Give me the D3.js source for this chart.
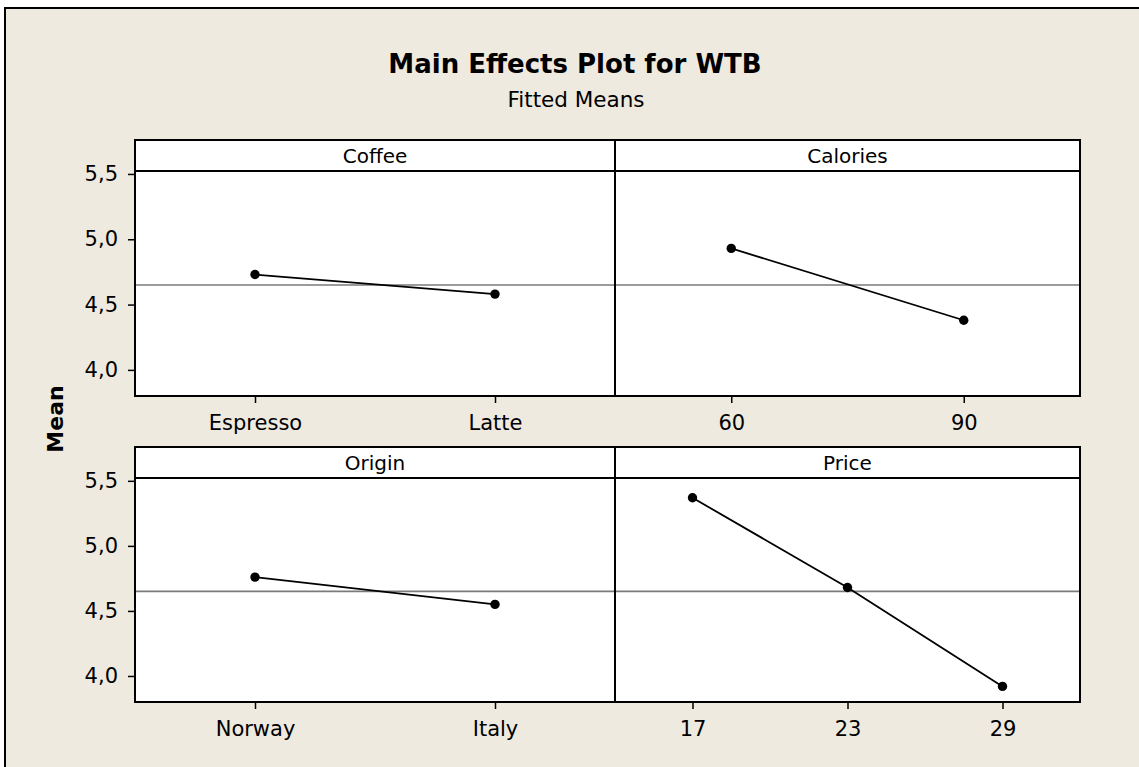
<!DOCTYPE html>
<html>
<head>
<meta charset="utf-8">
<script src="https://cdn.jsdelivr.net/npm/d3@7"></script>
<style>
  html, body { margin: 0; padding: 0; background: #ffffff; }
  svg { display: block; }
</style>
</head>
<body>
<svg id="chart" width="1139" height="767"></svg>
<script>
// ---- data ----
const factors = ["Coffee", "Calories", "Origin", "Price"];
const coffeeLevels = ["Espresso", "Latte"];
const caloriesLevels = ["60", "90"];
const originLevels = ["Norway", "Italy"];
const priceLevels = ["17", "23", "29"];
const coffeeMeans = [4.73, 4.58];
const caloriesMeans = [4.93, 4.38];
const originMeans = [4.76, 4.55];
const priceMeans = [5.37, 4.68, 3.92];
const grandMean = 4.65;
const yTicks = [4.0, 4.5, 5.0, 5.5];
const yDomain = [3.8, 5.76];
const titleText = "Main Effects Plot for WTB";
const subtitleText = "Fitted Means";
const yLabel = "Mean";

const levelsList = [coffeeLevels, caloriesLevels, originLevels, priceLevels];
const meansList = [coffeeMeans, caloriesMeans, originMeans, priceMeans];

// ---- layout ----
const W = 1139, H = 767;
const FONT = "'DejaVu Sans', Verdana, sans-serif";
const cols = [[135, 615], [615, 1080]];
const rows = [[140, 396], [447, 702]];
const stripH = 31;
const bg = "#EEEAE0";

const svg = d3.select("#chart");
svg.append("rect").attr("x", 0).attr("y", 0).attr("width", W).attr("height", H).attr("fill", "#ffffff");
svg.append("rect").attr("x", 5).attr("y", 8).attr("width", W + 20).attr("height", H + 20)
  .attr("fill", bg).attr("stroke", "#000").attr("stroke-width", 2);

svg.append("text").attr("x", 575).attr("y", 73).attr("text-anchor", "middle")
  .attr("font-family", FONT).attr("font-weight", "bold").attr("font-size", 26)
  .attr("fill", "#000").text(titleText);
svg.append("text").attr("x", 576).attr("y", 107).attr("text-anchor", "middle")
  .attr("font-family", FONT).attr("font-size", 21.5)
  .attr("fill", "#000").text(subtitleText);

svg.append("text").attr("transform", "translate(63,419) rotate(-90)")
  .attr("text-anchor", "middle").attr("font-family", FONT).attr("font-weight", "bold")
  .attr("font-size", 22).attr("fill", "#000").text(yLabel);

const fmt = d => d3.format(".1f")(d).replace(".", ",");

factors.forEach((name, i) => {
  const c = cols[i % 2], r = rows[Math.floor(i / 2)];
  const levels = levelsList[i], means = meansList[i];
  const x = d3.scalePoint().domain(levels).range(c).padding(0.5);
  const y = d3.scaleLinear().domain(yDomain).range([r[1], r[0]]);
  const g = svg.append("g");

  g.append("rect").attr("x", c[0]).attr("y", r[0]).attr("width", c[1] - c[0]).attr("height", r[1] - r[0])
    .attr("fill", "#fff");

  // grand mean reference line
  g.append("line").attr("x1", c[0]).attr("x2", c[1]).attr("y1", y(grandMean)).attr("y2", y(grandMean))
    .attr("stroke", "#7a7a7a").attr("stroke-width", 1.6);

  const pts = levels.map((l, k) => [x(l), y(means[k])]);
  g.append("path").attr("d", d3.line()(pts)).attr("fill", "none").attr("stroke", "#000").attr("stroke-width", 1.8);
  g.selectAll("circle.pt").data(levels).join("circle").attr("class", "pt")
    .attr("cx", d => x(d)).attr("cy", (d, k) => y(means[k])).attr("r", 4.7).attr("fill", "#000");

  // strip
  g.append("rect").attr("x", c[0]).attr("y", r[0]).attr("width", c[1] - c[0]).attr("height", stripH)
    .attr("fill", "#fff").attr("stroke", "#000").attr("stroke-width", 2);
  g.append("text").attr("x", (c[0] + c[1]) / 2).attr("y", r[0] + stripH / 2 + 7)
    .attr("text-anchor", "middle").attr("font-family", FONT).attr("font-size", 20)
    .attr("fill", "#000").text(name);

  // panel border
  g.append("rect").attr("x", c[0]).attr("y", r[0]).attr("width", c[1] - c[0]).attr("height", r[1] - r[0])
    .attr("fill", "none").attr("stroke", "#000").attr("stroke-width", 2);

  // x axis
  const xa = g.append("g").attr("transform", `translate(0,${r[1]})`)
    .call(d3.axisBottom(x).tickSize(7).tickPadding(12));
  xa.select(".domain").remove();
  xa.selectAll("line").attr("stroke", "#000").attr("stroke-width", 1.5);
  xa.selectAll("text").attr("font-family", FONT).attr("font-size", 21).attr("fill", "#000");

  if (i % 2 === 0) {
    const ya = g.append("g").attr("transform", `translate(${c[0]},0)`)
      .call(d3.axisLeft(y).tickValues(yTicks).tickFormat(fmt).tickSize(7).tickPadding(10));
    ya.select(".domain").remove();
    ya.selectAll("line").attr("stroke", "#000").attr("stroke-width", 1.5);
    ya.selectAll("text").attr("font-family", FONT).attr("font-size", 21).attr("fill", "#000");
  }
});
</script>
</body>
</html>
